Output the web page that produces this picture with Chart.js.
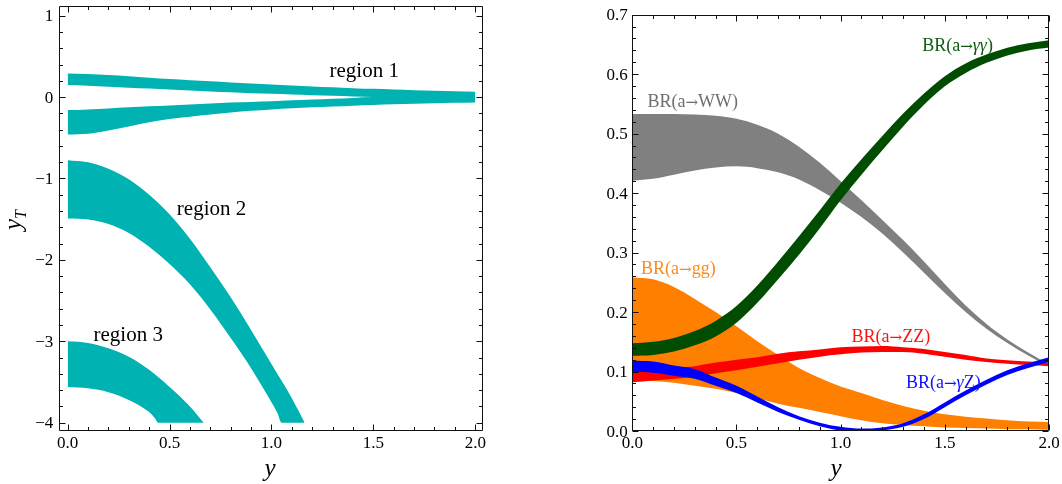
<!DOCTYPE html>
<html><head><meta charset="utf-8">
<script src="https://cdn.jsdelivr.net/npm/chart.js@4.4.1/dist/chart.umd.min.js"></script>
<style>
html,body{margin:0;padding:0;background:#fff;width:1062px;height:484px;overflow:hidden}
.p{position:absolute;top:0;width:531px;height:484px}
</style></head><body>
<div class="p" style="left:0"><canvas id="c1" width="531" height="484"></canvas></div>
<div class="p" style="left:531px"><canvas id="c2" width="531" height="484"></canvas></div>
<script>
// ---------- left panel: allowed regions in (y, y_T) ----------
const X_R1 = [0,0.1,0.2,0.3,0.4,0.5,0.6,0.7,0.8,0.9,1.0,1.1,1.2,1.3,1.4,1.5,1.6,1.7,1.8,1.9,2.0];
const R1_UP_TOP = [0.291,0.284,0.270,0.255,0.239,0.223,0.208,0.194,0.180,0.166,0.154,0.143,0.131,0.120,0.110,0.101,0.093,0.085,0.078,0.072,0.066];
const R1_UP_BOT = [0.148,0.139,0.128,0.116,0.104,0.092,0.080,0.069,0.058,0.048,0.040,0.032,0.023,0.015,0.007,0,0,0,0,0,0];
const R1_LO_TOP = [-0.160,-0.151,-0.139,-0.126,-0.113,-0.102,-0.090,-0.079,-0.068,-0.059,-0.050,-0.040,-0.030,-0.020,-0.010,0,0,0,0,0,0];
const R1_LO_BOT = [-0.460,-0.450,-0.410,-0.360,-0.310,-0.269,-0.241,-0.213,-0.190,-0.169,-0.152,-0.138,-0.126,-0.115,-0.105,-0.096,-0.088,-0.081,-0.075,-0.070,-0.066];

const X_R2_TOP = [0,0.1,0.2,0.3,0.4,0.5,0.6,0.7,0.8,0.9,1.0,1.1,1.163];
const R2_TOP   = [-0.775,-0.80,-0.88,-1.01,-1.20,-1.44,-1.74,-2.09,-2.46,-2.86,-3.28,-3.70,-4.0];
const X_R2_BOT = [0,0.1,0.2,0.3,0.4,0.5,0.6,0.7,0.8,0.9,1.0,1.03,1.049,1.163];
const R2_BOT   = [-1.492,-1.505,-1.56,-1.67,-1.84,-2.05,-2.30,-2.61,-2.96,-3.33,-3.75,-3.885,-4.0,-4.0];

const X_R3_TOP = [0,0.1,0.2,0.3,0.4,0.5,0.6,0.668];
const R3_TOP   = [-3.0,-3.02,-3.085,-3.19,-3.35,-3.56,-3.80,-4.0];
const X_R3_BOT = [0,0.1,0.2,0.3,0.4,0.43,0.444,0.668];
const R3_BOT   = [-3.563,-3.578,-3.625,-3.72,-3.87,-3.95,-4.0,-4.0];

const L_X_TICKS = [0,0.5,1,1.5,2];
const L_X_LABELS = ['0.0','0.5','1.0','1.5','2.0'];
const L_Y_TICKS = [-4,-3,-2,-1,0,1];
const L_Y_LABELS = ['\u22124','\u22123','\u22122','\u22121','0','1'];

// ---------- right panel: branching ratios vs y ----------
const X_BR = [0,0.1,0.2,0.3,0.4,0.5,0.6,0.7,0.8,0.9,1.0,1.1,1.2,1.3,1.4,1.5,1.6,1.7,1.8,1.9,2.0];
const WW_HI = [0.533,0.533,0.533,0.532,0.530,0.525,0.515,0.500,0.478,0.451,0.420,0.388,0.355,0.321,0.285,0.247,0.211,0.180,0.154,0.132,0.112];
const WW_LO = [0.421,0.424,0.431,0.438,0.443,0.445,0.442,0.435,0.423,0.405,0.384,0.360,0.332,0.300,0.266,0.232,0.200,0.172,0.148,0.127,0.108];
const GG_HI = [0.258,0.255,0.242,0.222,0.200,0.176,0.151,0.128,0.106,0.089,0.075,0.064,0.052,0.042,0.034,0.028,0.024,0.021,0.018,0.016,0.015];
const GG_LO = [0.086,0.084,0.081,0.076,0.071,0.064,0.055,0.046,0.039,0.032,0.025,0.018,0.013,0.010,0.008,0.006,0.005,0.004,0.003,0.003,0.002];
const AA_HI = [0.1475,0.150,0.1565,0.168,0.185,0.210,0.2445,0.285,0.3275,0.371,0.416,0.457,0.496,0.534,0.5675,0.5965,0.618,0.633,0.6445,0.652,0.657];
const AA_LO = [0.1265,0.128,0.1335,0.144,0.159,0.182,0.2155,0.255,0.2965,0.341,0.388,0.431,0.472,0.512,0.5485,0.5795,0.602,0.619,0.6315,0.640,0.645];
const ZZ_HI = [0.100,0.103,0.106,0.109,0.115,0.120,0.124,0.130,0.134,0.137,0.141,0.142,0.143,0.141,0.138,0.133,0.128,0.122,0.119,0.117,0.115];
const ZZ_LO = [0.082,0.085,0.088,0.091,0.097,0.102,0.108,0.114,0.120,0.125,0.129,0.132,0.133,0.133,0.130,0.125,0.120,0.116,0.113,0.111,0.109];
const AZ_HI = [0.118,0.117,0.110,0.104,0.090,0.076,0.058,0.040,0.025,0.014,0.007,0.004,0.006,0.013,0.028,0.048,0.068,0.086,0.102,0.114,0.124];
const AZ_LO = [0.099,0.098,0.093,0.088,0.076,0.064,0.048,0.032,0.019,0.008,0.001,0.000,0.001,0.007,0.020,0.040,0.060,0.078,0.094,0.106,0.116];

const R_X_TICKS = [0,0.5,1,1.5,2];
const R_X_LABELS = ['0.0','0.5','1.0','1.5','2.0'];
const R_Y_TICKS = [0,0.1,0.2,0.3,0.4,0.5,0.6,0.7];
const R_Y_LABELS = ['0.0','0.1','0.2','0.3','0.4','0.5','0.6','0.7'];

// ---------- helpers ----------
const SERIF = '"Liberation Serif", "DejaVu Serif", serif';
Chart.defaults.font.family = SERIF;
const pts = (xs, ys) => xs.map((x, i) => ({x: x, y: ys[i]}));
function band(xl, lo, xh, hi, color, order) {
  const common = {showLine: true, borderWidth: 0, pointRadius: 0, cubicInterpolationMode: 'monotone', order: order};
  return [
    Object.assign({data: pts(xl, lo), fill: false, borderColor: color, backgroundColor: color}, common),
    Object.assign({data: pts(xh, hi), fill: '-1', borderColor: color, backgroundColor: color}, common)
  ];
}

// parts: {t: text, i: italic, s: size, dy: baseline shift, f: family}
function drawRich(ctx, parts, cx, by, size, color) {
  const fonts = parts.map(p => (p.i ? 'italic ' : '') + (p.s || size) + 'px ' + (p.f || SERIF));
  let w = 0;
  parts.forEach((p, k) => { ctx.font = fonts[k]; w += ctx.measureText(p.t).width; });
  let x = cx - w / 2;
  ctx.fillStyle = color; ctx.textBaseline = 'alphabetic'; ctx.textAlign = 'left';
  parts.forEach((p, k) => { ctx.font = fonts[k]; ctx.fillText(p.t, x, by + (p.dy || 0)); x += ctx.measureText(p.t).width; });
}

const decor = {
  id: 'decor',
  afterDraw(chart, _a, o) {
    const {ctx, chartArea: a, scales: {x: sx, y: sy}} = chart;
    ctx.save();
    ctx.strokeStyle = '#111'; ctx.lineWidth = 1;
    const L = Math.round(a.left) + 0.5, R = Math.round(a.right) - 0.5;
    const T = Math.round(a.top) + 0.5, B = Math.round(a.bottom) - 0.5;
    ctx.beginPath();
    const isMaj = (v, m) => Math.abs(v / m - Math.round(v / m)) < 1e-6;
    for (let k = Math.ceil(sx.min / o.xm - 1e-9); k * o.xm <= sx.max + 1e-9; k++) {
      const v = k * o.xm, len = isMaj(v, o.xM) ? 6 : 3.5;
      const p = Math.round(sx.getPixelForValue(v)) + 0.5;
      ctx.moveTo(p, B); ctx.lineTo(p, B - len); ctx.moveTo(p, T); ctx.lineTo(p, T + len);
    }
    for (let k = Math.ceil(sy.min / o.ym - 1e-9); k * o.ym <= sy.max + 1e-9; k++) {
      const v = k * o.ym, len = isMaj(v, o.yM) ? 6 : 3.5;
      const p = Math.round(sy.getPixelForValue(v)) + 0.5;
      ctx.moveTo(L, p); ctx.lineTo(L + len, p); ctx.moveTo(R, p); ctx.lineTo(R - len, p);
    }
    ctx.rect(L, T, R - L, B - T);
    ctx.stroke();
    // tick labels (values from the tick arrays, positions from the scales)
    ctx.fillStyle = '#000';
    ctx.font = '17px ' + SERIF;
    ctx.textBaseline = 'alphabetic';
    ctx.textAlign = 'center';
    o.xt.forEach((v, k) => ctx.fillText(o.xl[k], sx.getPixelForValue(v), a.bottom + 16.5));
    ctx.textAlign = 'right';
    o.yt.forEach((v, k) => ctx.fillText(o.yl[k], a.left - o.gap, sy.getPixelForValue(v) + 5.5));
    // axis titles
    drawRich(ctx, [{t: 'y', i: true}], o.xTitle[0], o.xTitle[1], 25, '#000');
    if (o.yTitle) {
      ctx.save(); ctx.translate(o.yTitle[0], o.yTitle[1]); ctx.rotate(-Math.PI / 2);
      drawRich(ctx, o.yTitle[2], 0, 0, 25, '#000');
      ctx.restore();
    }
    // in-plot labels (anchored in data coordinates)
    for (const lb of o.labels) {
      drawRich(ctx, lb.parts, sx.getPixelForValue(lb.x), sy.getPixelForValue(lb.y), lb.size, lb.color);
    }
    ctx.restore();
  }
};

function axes(xMin, xMax, yMin, yMax, yw) {
  return {
    x: {type: 'linear', min: xMin, max: xMax, grid: {display: false}, border: {display: false},
        ticks: {display: false}, afterFit: s => { s.height = 53; }},
    y: {type: 'linear', min: yMin, max: yMax, grid: {display: false}, border: {display: false},
        ticks: {display: false}, afterFit: s => { s.width = yw; }}
  };
}

const TEAL = '#00b2b2';
const leftSets = [].concat(
  band(X_R1, R1_UP_BOT, X_R1, R1_UP_TOP, TEAL, 1),
  band(X_R1, R1_LO_BOT, X_R1, R1_LO_TOP, TEAL, 1),
  band(X_R2_BOT, R2_BOT, X_R2_TOP, R2_TOP, TEAL, 1),
  band(X_R3_BOT, R3_BOT, X_R3_TOP, R3_TOP, TEAL, 1)
);

const ARROW = {t: '\u2192', f: '"DejaVu Serif", serif', s: 15};

new Chart(document.getElementById('c1'), {
  type: 'scatter',
  data: {datasets: leftSets},
  options: {
    responsive: false, animation: false, events: [],
    layout: {padding: {left: 0, right: 48, top: 6, bottom: 0}},
    scales: axes(-0.041, 2.038, -4.102, 1.119, 59.3),
    plugins: {
      legend: {display: false}, tooltip: {enabled: false},
      decor: {
        xm: 0.1, xM: 0.5, ym: 0.2, yM: 1,
        xt: L_X_TICKS, xl: L_X_LABELS, yt: L_Y_TICKS, yl: L_Y_LABELS, gap: 6,
        xTitle: [270, 476],
        yTitle: [21, 220, [{t: 'y', i: true}, {t: 'T', i: true, s: 16, dy: 5}]],
        labels: [
          {x: 1.455, y: 0.242, size: 21, color: '#000', parts: [{t: 'region 1'}]},
          {x: 0.706, y: -1.443, size: 21, color: '#000', parts: [{t: 'region 2'}]},
          {x: 0.297, y: -2.998, size: 21, color: '#000', parts: [{t: 'region 3'}]}
        ]
      }
    }
  },
  plugins: [decor]
});

const rightSets = [].concat(
  band(X_BR, WW_LO, X_BR, WW_HI, '#808080', 5),
  band(X_BR, GG_LO, X_BR, GG_HI, '#ff8000', 4),
  band(X_BR, AA_LO, X_BR, AA_HI, '#004c00', 3),
  band(X_BR, ZZ_LO, X_BR, ZZ_HI, '#ff0000', 2),
  band(X_BR, AZ_LO, X_BR, AZ_HI, '#0000ff', 1)
);

new Chart(document.getElementById('c2'), {
  type: 'scatter',
  data: {datasets: rightSets},
  options: {
    responsive: false, animation: false, events: [],
    layout: {padding: {left: 0, right: 13, top: 14.7, bottom: 0}},
    scales: axes(0, 2, 0, 0.7, 101.3),
    plugins: {
      legend: {display: false}, tooltip: {enabled: false},
      decor: {
        xm: 0.1, xM: 0.5, ym: 0.02, yM: 0.1,
        xt: R_X_TICKS, xl: R_X_LABELS, yt: R_Y_TICKS, yl: R_Y_LABELS, gap: 4.5,
        xTitle: [305, 476],
        labels: [
          {x: 0.29, y: 0.545, size: 18, color: '#6e6e6e', parts: [{t: 'BR(a'}, ARROW, {t: 'WW)'}]},
          {x: 1.561, y: 0.639, size: 18, color: '#0f5c0f', parts: [{t: 'BR(a'}, ARROW, {t: '\u03b3\u03b3', i: true}, {t: ')'}]},
          {x: 0.221, y: 0.264, size: 18, color: '#ff8a1c', parts: [{t: 'BR(a'}, ARROW, {t: 'gg)'}]},
          {x: 1.241, y: 0.149, size: 18, color: '#ff1010', parts: [{t: 'BR(a'}, ARROW, {t: 'ZZ)'}]},
          {x: 1.493, y: 0.072, size: 18, color: '#1010ff', parts: [{t: 'BR(a'}, ARROW, {t: '\u03b3', i: true}, {t: 'Z)'}]}
        ]
      }
    }
  },
  plugins: [decor]
});
</script></body></html>
